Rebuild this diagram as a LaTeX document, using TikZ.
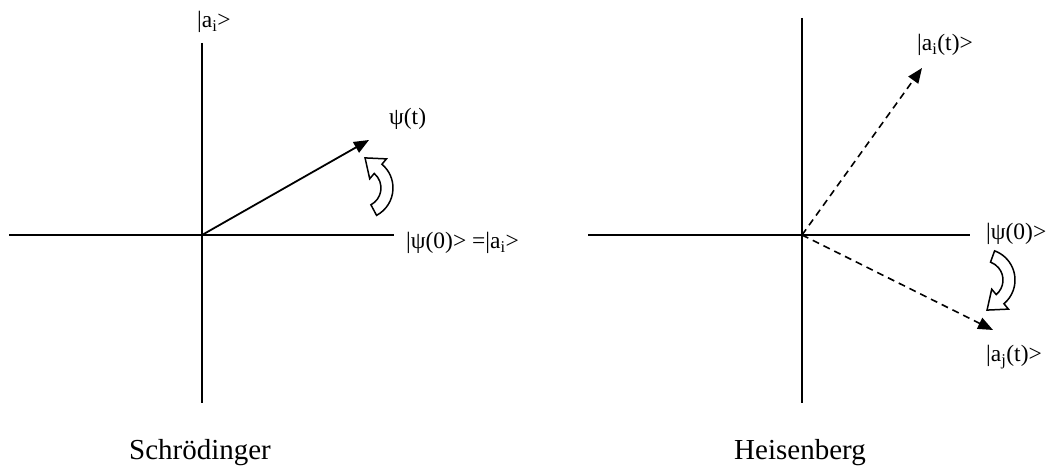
\documentclass[tikz,border=0pt]{standalone}
\usepackage{fontspec}
\setmainfont{Liberation Serif}
\usetikzlibrary{arrows.meta}
\begin{document}
\begin{tikzpicture}[x=1pt,y=1pt,
  axis/.style={line width=1.8pt},
  vec/.style={line width=1.8pt,-{Triangle[length=15pt,width=12pt]}},
  dvec/.style={line width=1.6pt,dash pattern=on 7pt off 5pt,-{Triangle[length=15pt,width=12pt]}},
  lbl/.style={anchor=west,inner sep=0pt,font=\fontsize{23.5}{27}\selectfont},
  title/.style={inner sep=0pt,font=\fontsize{29}{34}\selectfont},
  blockarrow/.style={draw=black,fill=white,line width=1.5pt,line join=miter}]
\useasboundingbox (0,0) rectangle (1052,476);
% Schroedinger axes
\coordinate (l1) at (9,241);
\coordinate (r1) at (394,241);
\coordinate (t1) at (202,433);
\coordinate (b1) at (202,73);
\coordinate (o1) at (202,241);
\coordinate (psi) at (369,336);
\draw[axis] (l1) -- (r1);
\draw[axis] (t1) -- (b1);
\draw[vec] (o1) -- (psi);
\begin{scope}[shift={(362,288)}]
\draw[blockarrow] (-62:31pt) arc[start angle=-62,end angle=50,radius=31pt]
  -- (50:38pt) -- (3.05pt,30.1pt) -- (50:12pt) -- (50:19pt)
  arc[start angle=50,end angle=-62,radius=19pt] -- cycle;
\end{scope}
\node[lbl] (ai) at (197,454) {|a\textsubscript{i}>};
\node[lbl] (psit) at (389,357) {ψ(t)};
\node[lbl] (psi0a) at (406,233) {|ψ(0)> =|a\textsubscript{i}>};
\node[title] (sch) at (200,23) {Schrödinger};
% Heisenberg axes
\coordinate (l2) at (588,241);
\coordinate (r2) at (970,241);
\coordinate (t2) at (802,458);
\coordinate (b2) at (802,73);
\coordinate (o2) at (802,241);
\coordinate (ait) at (922,408);
\coordinate (ajt) at (993,146);
\draw[axis] (l2) -- (r2);
\draw[axis] (t2) -- (b2);
\draw[dvec] (o2) -- (ait);
\draw[dvec] (o2) -- (ajt);
\begin{scope}[shift={(984,196)}]
\draw[blockarrow] (70:31pt) arc[start angle=70,end angle=-50,radius=31pt]
  -- (-50:38pt) -- (3.05pt,-30.1pt) -- (-50:12pt) -- (-50:19pt)
  arc[start angle=-50,end angle=70,radius=19pt] -- cycle;
\end{scope}
\node[lbl] (aitl) at (917,431) {|a\textsubscript{i}(t)>};
\node[lbl] (psi0b) at (986,242) {|ψ(0)>};
\node[lbl] (ajtl) at (986,119) {|a\textsubscript{j}(t)>};
\node[title] (heis) at (800,23) {Heisenberg};
\end{tikzpicture}
\end{document}
